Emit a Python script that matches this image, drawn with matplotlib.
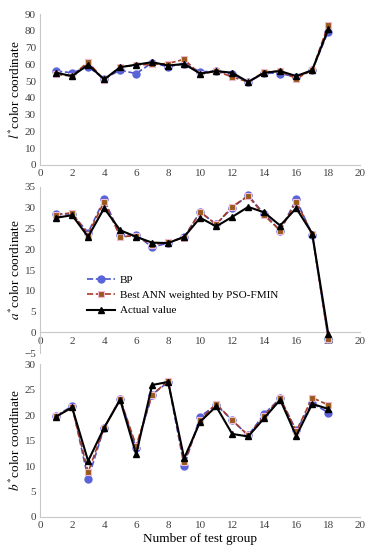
import numpy as np
import matplotlib
matplotlib.use('Agg')
from matplotlib import pyplot as plt

plt.rcParams['font.family'] = ['Liberation Serif', 'DejaVu Serif']
plt.rcParams['mathtext.fontset'] = 'stix'

groups = list(range(1, 19))

# l* colour coordinate
l_bp = [56, 55, 58.5, 51.5, 56.5, 54.5, 61, 58.5, 60.5, 55.5, 56, 54, 49.5, 55, 54.5, 52.5, 56.5, 79.5]
l_pso = [54, 53, 61.5, 50.5, 58.5, 59.5, 60, 60.5, 63, 54, 56, 52.5, 49.5, 55.5, 56, 51.5, 56.5, 83.5]
l_act = [55, 53, 59.8, 51, 58.3, 59.8, 61.3, 59.3, 60.2, 54.5, 56, 55, 49.5, 55, 56, 53, 56.5, 81]

# a* colour coordinate
a_bp = [28.5, 28.5, 24, 32, 23.5, 23.5, 20.5, 21.5, 23, 29, 26, 30, 33, 28.5, 24.5, 32, 23.5, -1.5]
a_pso = [28.3, 28.8, 23.5, 31.5, 23, 23.3, 21, 21.8, 22.8, 29, 26, 30.3, 32.8, 28.2, 24.5, 31.5, 23.7, -1.5]
a_act = [27.6, 28.2, 23, 29.9, 24.6, 23, 21.6, 21.5, 23, 27.6, 25.5, 27.8, 30.2, 28.9, 25.7, 29.9, 23.8, -0.3]

# b* colour coordinate
b_bp = [19.8, 21.8, 7.5, 17.5, 23.2, 13.5, 24, 26.5, 10, 19.7, 22, 19, 16, 20.2, 23.3, 17, 22.3, 20.5]
b_pso = [19.8, 21.5, 8.8, 17.5, 23.2, 14, 24, 26.7, 10.7, 19, 22.2, 19, 16, 19.8, 23.3, 16.8, 23.4, 22]
b_act = [19.7, 21.5, 11, 17.5, 23, 12.3, 25.9, 26.5, 11.5, 18.7, 21.7, 16.3, 15.8, 19.4, 23, 15.9, 22.2, 21.2]

fig = plt.figure(figsize=(3.82, 5.5), dpi=100)
ax1 = fig.add_axes([0.105, 0.700, 0.838, 0.2745])
ax2 = fig.add_axes([0.105, 0.358, 0.838, 0.302])
ax3 = fig.add_axes([0.105, 0.060, 0.838, 0.278])


def drawPanel(ax, bp, pso, act, ylim, ystep, ylabel):
    ax.plot(groups, bp, '--', color='#4a55c8', lw=1.2, marker='o', ms=5,
            mfc='#5a64d8', mec='#5a64d8', label='BP', zorder=2)
    ax.plot(groups, pso, '--', color='#a83a2a', lw=1.2, marker='s', ms=5,
            mfc='#9a5a1c', mec='#f2b8d8', mew=0.8,
            label='Best ANN weighted by PSO-FMIN', zorder=3)
    ax.plot(groups, act, '-', color='black', lw=1.5, marker='^', ms=5,
            mfc='black', mec='black', label='Actual value', zorder=4)
    ax.set_xlim(0, 20)
    ax.set_ylim(*ylim)
    ax.set_xticks(np.arange(0, 21, 2))
    ax.set_yticks(np.arange(ylim[0], ylim[1] + 0.1, ystep))
    ax.set_ylabel(ylabel, fontsize=9.5, labelpad=1)
    for s in ['top', 'right']:
        ax.spines[s].set_visible(False)
    for s in ['left', 'bottom']:
        ax.spines[s].set_color('#c8c8c8')
        ax.spines[s].set_linewidth(0.8)
    ax.tick_params(length=0, labelsize=8, colors='#404040', pad=3)


drawPanel(ax1, l_bp, l_pso, l_act, (0, 90), 10, r'$l^{*}$color coordinate')
drawPanel(ax2, a_bp, a_pso, a_act, (-5, 35), 5, r'$a^{*}$color coordinate')
drawPanel(ax3, b_bp, b_pso, b_act, (0, 30), 5, r'$b^{*}$color coordinate')

ax2.spines['bottom'].set_position(('data', 0))
ax3.set_xlabel('Number of test group', fontsize=9.5, labelpad=2)

ax2.legend(loc='upper left', bbox_to_anchor=(0.215, 0.508), bbox_transform=fig.transFigure,
           frameon=False, fontsize=8, handlelength=2.6, labelspacing=0.5,
           borderaxespad=0, handletextpad=0.4)

plt.savefig('out.png', dpi=100)
plt.close()
